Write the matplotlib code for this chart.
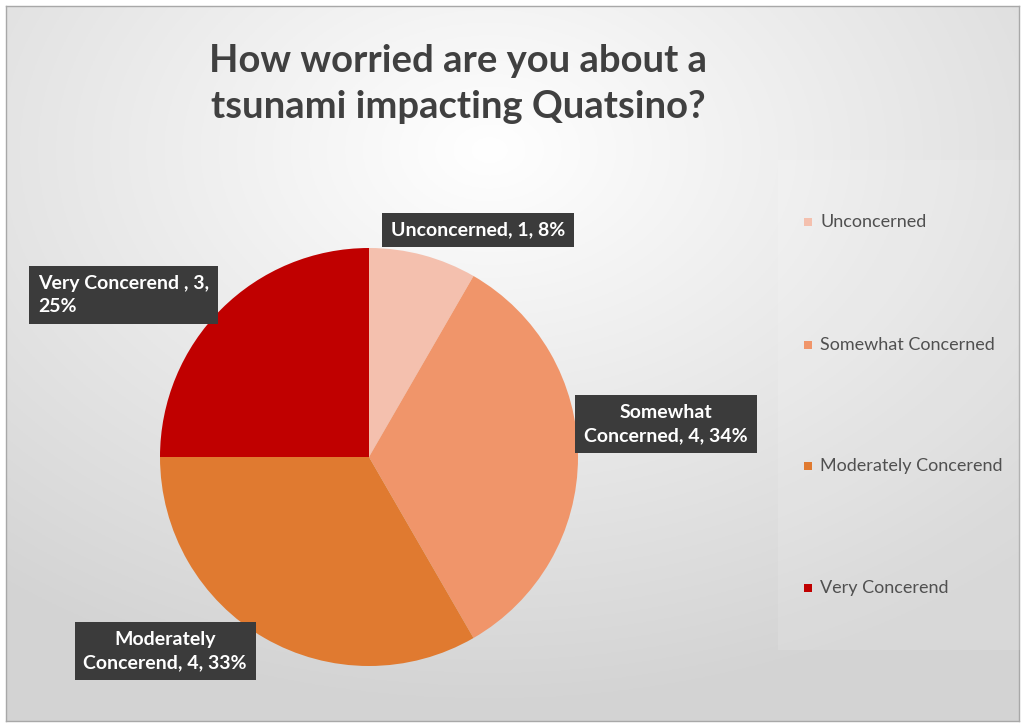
import numpy as np
import matplotlib
matplotlib.use("Agg")
import matplotlib.pyplot as plt
from matplotlib.patches import Rectangle

categories = ["Unconcerned", "Somewhat Concerned", "Moderately Concerend", "Very Concerend"]
counts = [1, 4, 4, 3]
pct_labels = ["8%", "34%", "33%", "25%"]
colors = ["#F4C0AE", "#F0956A", "#E07A30", "#C00000"]
title = "How worried are you about a\ntsunami impacting Quatsino?"

W, H = 1025, 726
fig = plt.figure(figsize=(W / 100, H / 100), dpi=100)
fig.patch.set_facecolor("white")

def fx(px):
    return px / W

def fy(py):
    return 1 - py / H

# background with soft radial gradient
bg = fig.add_axes([fx(6), fy(721), fx(1019) - fx(6), fy(6) - fy(721)])
yy, xx = np.mgrid[0:300, 0:420]
cx, cy = 200, 60
d = np.sqrt(((xx - cx) / 420) ** 2 + ((yy - cy) / 300) ** 2)
g = np.clip(1.0 - 0.22 * d, 0.83, 1.0)
bg.imshow(np.dstack([g, g, g]), aspect="auto", extent=[0, 1, 0, 1], origin="upper")
bg.set_xlim(0, 1)
bg.set_ylim(0, 1)
bg.set_xticks([])
bg.set_yticks([])
for s in bg.spines.values():
    s.set_edgecolor("#a8a8a8")
    s.set_linewidth(1.0)

# legend panel
fig.patches.append(Rectangle((fx(778), fy(650)), fx(1020) - fx(778), fy(160) - fy(650),
                             transform=fig.transFigure, facecolor="white", alpha=0.12,
                             edgecolor="none", zorder=1))

fig.text(fx(458), fy(84), title, ha="center", va="center", fontsize=27.5, fontweight="bold",
         family="Lato", color="#404040", linespacing=1.42)

# pie
cxp, cyp, r = 369, 457, 209
ax = fig.add_axes([fx(cxp - r), fy(cyp + r), 2 * r / W, 2 * r / H])
wedges, _ = ax.pie(counts, colors=colors, startangle=90, counterclock=False, radius=1,
                   wedgeprops=dict(linewidth=0))
ax.set_xlim(-1, 1)
ax.set_ylim(-1, 1)
ax.set_aspect("auto")
ax.axis("off")

box = dict(boxstyle="square,pad=0.45", facecolor="#3b3b3b", edgecolor="none")
label_texts = [
    f"{categories[0]}, {counts[0]}, {pct_labels[0]}",
    f"Somewhat\nConcerned, {counts[1]}, {pct_labels[1]}",
    f"Moderately\nConcerend, {counts[2]}, {pct_labels[2]}",
    f"Very Concerend , {counts[3]},\n{pct_labels[3]}",
]
label_pos = [(478, 230, "center"), (666, 424, "center"), (165, 651, "center"), (38, 295, "left")]
for txt, (px, py, al) in zip(label_texts, label_pos):
    fig.text(fx(px), fy(py), txt, ha=al, va="center", multialignment=al,
             fontsize=14, fontweight="bold", family="Lato", color="white",
             bbox=box, linespacing=1.4)

# legend
leg_y = [222, 345, 466, 588]
for cat, col, ly in zip(categories, colors, leg_y):
    fig.patches.append(Rectangle((fx(804), fy(ly + 4)), 8 / W, 8 / H, transform=fig.transFigure,
                                 facecolor=col, edgecolor="none", zorder=3))
    fig.text(fx(820), fy(ly), cat, ha="left", va="center", fontsize=13, family="Lato",
             color="#505050")

fig.savefig("out.png", dpi=100)
